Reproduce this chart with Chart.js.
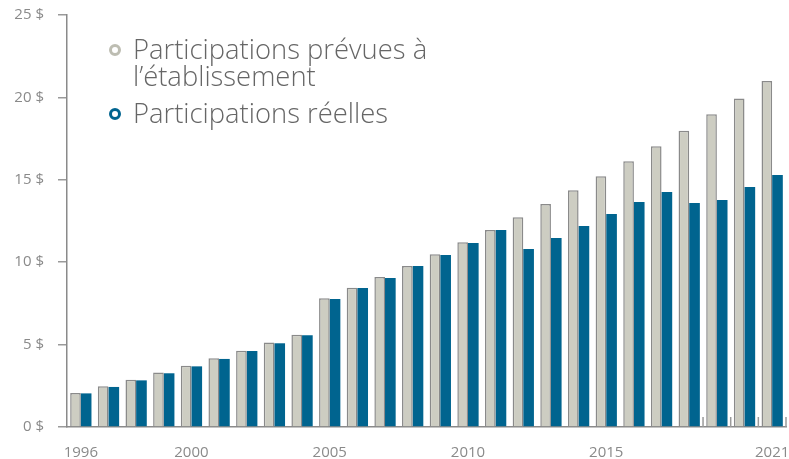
<!DOCTYPE html>
<html>
<head>
<meta charset="utf-8">
<script src="https://cdn.jsdelivr.net/npm/chart.js@4"></script>
<style>
    body { margin: 0; background: #fff; }
    #wrap { position: relative; width: 789px; height: 459px; }
    #legend { position: absolute; left: 106px; top: 35px; font-family: "Open Sans", sans-serif; font-weight: 300; font-size: 27.4px; color: #666; line-height: 27px; }
    .item { position: relative; padding-left: 27px; margin-bottom: 10px; }
    .dot { position: absolute; left: 3px; top: 9px; width: 6px; height: 6px; border-radius: 50%; border: 3.5px solid; }
</style>
</head>
<body>
<div id="wrap">
    <canvas id="myChart" width="789" height="459"></canvas>
    <div id="legend">
        <div class="item"><span class="dot" style="border-color:#bdbdb2"></span>Participations prévues à<br>l’établissement</div>
        <div class="item"><span class="dot" style="border-color:#00648f"></span>Participations réelles</div>
    </div>
</div>
<script>
const years = ['1996', '1997', '1998', '1999', '2000', '2001', '2002', '2003', '2004', '2005', '2006', '2007', '2008',
    '2009', '2010', '2011', '2012', '2013', '2014', '2015', '2016', '2017', '2018', '2019', '2020', '2021'];
const shownYears = ['1996', '2000', '2005', '2010', '2015', '2021'];
const prevues = [2.07, 2.47, 2.87, 3.30, 3.72, 4.17, 4.63, 5.12, 5.60, 7.81, 8.45, 9.10, 9.77, 10.48, 11.21, 11.95,
    12.72, 13.53, 14.36, 15.21, 16.12, 17.03, 17.98, 18.97, 19.94, 21.0];
const reelles = [2.04, 2.43, 2.83, 3.26, 3.68, 4.13, 4.61, 5.08, 5.56, 7.77, 8.43, 9.04, 9.77, 10.44, 11.17, 11.95,
    10.80, 11.47, 12.20, 12.92, 13.65, 14.26, 13.59, 13.77, 14.56, 15.29];
const yTicks = [0, 5, 10, 15, 20, 25];
// years followed by a small upward tick on the x axis
const tickedYears = ['2018', '2019', '2020', '2021'];

// short ticks pointing up from the x axis, between categories
const xTickMarks = {
    id: 'xTickMarks',
    afterDatasetsDraw(chart) {
        const x = chart.scales.x;
        const c = chart.ctx;
        const step = x.getPixelForValue(1) - x.getPixelForValue(0);
        c.save();
        c.strokeStyle = '#9a9a9a';
        c.lineWidth = 1.5;
        tickedYears.forEach(y => {
            const px = x.getPixelForValue(years.indexOf(y)) + step / 2;
            c.beginPath();
            c.moveTo(px, x.top);
            c.lineTo(px, x.top - 10);
            c.stroke();
        });
        c.restore();
    }
};

const ctx = document.getElementById('myChart');
new Chart(ctx, {
    type: 'bar',
    data: {
        labels: years,
        datasets: [
            {
                label: 'Participations prévues à l’établissement',
                data: prevues,
                backgroundColor: '#cdcdc2',
                borderColor: '#8a8a8a',
                borderWidth: 1.5,
                borderSkipped: 'bottom'
            },
            {
                label: 'Participations réelles',
                data: reelles,
                backgroundColor: '#00648f',
                borderWidth: 0
            }
        ]
    },
    options: {
        responsive: false,
        animation: false,
        layout: { padding: { top: 15, right: 3, left: 0, bottom: 0 } },
        datasets: { bar: { categoryPercentage: 0.77, barPercentage: 1 } },
        scales: {
            x: {
                grid: { display: false },
                border: { display: true, color: '#8a8a8a', width: 1.5 },
                afterFit: (scale) => {
                    scale.height = 32;
                    scale.paddingLeft = 0;
                    scale.paddingRight = 0;
                },
                ticks: {
                    autoSkip: false,
                    maxRotation: 0,
                    padding: 9,
                    color: '#8a8a8a',
                    font: { family: 'Open Sans', size: 15 },
                    callback: function (value) {
                        const y = this.getLabelForValue(value);
                        return shownYears.includes(y) ? y : '';
                    }
                }
            },
            y: {
                min: 0,
                max: 25,
                afterFit: (scale) => {
                    scale.width = 67;
                    scale.paddingTop = 0;
                    scale.paddingBottom = 0;
                },
                afterBuildTicks: (scale) => { scale.ticks = yTicks.map(v => ({ value: v })); },
                border: { display: true, color: '#8a8a8a', width: 1.5 },
                grid: { drawOnChartArea: false, drawTicks: true, tickLength: 9, color: '#9a9a9a', lineWidth: 1.5 },
                ticks: {
                    padding: 14,
                    color: '#8a8a8a',
                    font: { family: 'Open Sans', size: 15 },
                    callback: (v) => v + ' $'
                }
            }
        },
        plugins: {
            legend: { display: false },
            tooltip: { enabled: false }
        }
    },
    plugins: [xTickMarks]
});
</script>
</body>
</html>
